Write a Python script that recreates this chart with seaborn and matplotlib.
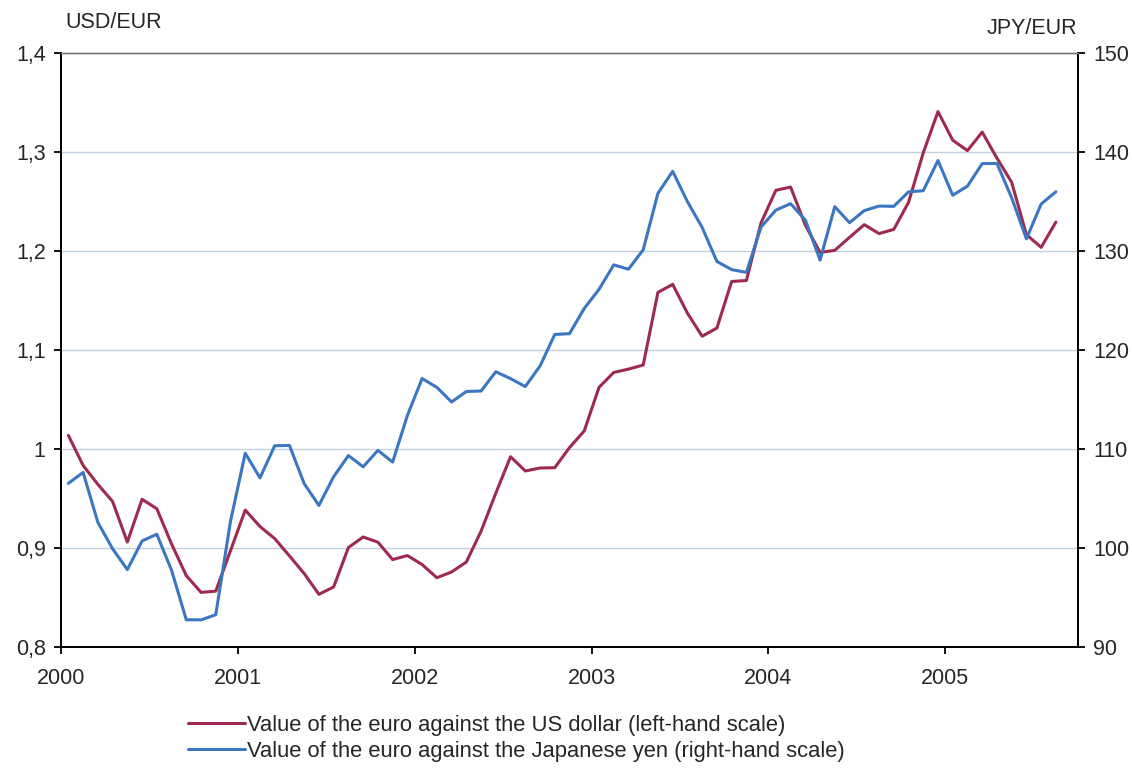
import warnings
warnings.filterwarnings('ignore')

import matplotlib
matplotlib.use('Agg')
import matplotlib.pyplot as plt
import matplotlib.ticker as mticker
import pandas as pd
import seaborn as sns

# monthly averages, Jan 2000 - Aug 2005
usd_eur = [1.0137, 0.9834, 0.9643, 0.9470, 0.9060, 0.9492, 0.9397, 0.9041, 0.8721, 0.8552, 0.8564, 0.8973,
           0.9383, 0.9217, 0.9095, 0.8920, 0.8742, 0.8532, 0.8607, 0.9005, 0.9111, 0.9059, 0.8883, 0.8924,
           0.8833, 0.8700, 0.8758, 0.8858, 0.9170, 0.9554, 0.9922, 0.9778, 0.9808, 0.9811, 1.0014, 1.0183,
           1.0622, 1.0773, 1.0807, 1.0848, 1.1582, 1.1663, 1.1372, 1.1139, 1.1222, 1.1692, 1.1702, 1.2286,
           1.2613, 1.2646, 1.2262, 1.1985, 1.2007, 1.2138, 1.2266, 1.2176, 1.2218, 1.2490, 1.2991, 1.3408,
           1.3119, 1.3014, 1.3201, 1.2938, 1.2694, 1.2165, 1.2037, 1.2292]
jpy_eur = [106.53, 107.64, 102.59, 99.92, 97.82, 100.71, 101.39, 97.76, 92.75, 92.74, 93.26, 102.70,
           109.57, 107.08, 110.33, 110.36, 106.50, 104.30, 107.21, 109.34, 108.20, 109.86, 108.68, 113.38,
           117.12, 116.23, 114.75, 115.81, 115.86, 117.80, 117.11, 116.31, 118.38, 121.57, 121.65, 124.20,
           126.12, 128.60, 128.16, 130.12, 135.83, 138.05, 134.99, 132.38, 128.94, 128.12, 127.84, 132.43,
           134.13, 134.78, 133.13, 129.08, 134.48, 132.86, 134.08, 134.54, 134.51, 135.97, 136.09, 139.14,
           135.63, 136.55, 138.83, 138.84, 135.37, 131.23, 134.75, 135.98]
year_ticks = [2000, 2001, 2002, 2003, 2004, 2005]
left_ticks = [0.8, 0.9, 1.0, 1.1, 1.2, 1.3, 1.4]
right_ticks = [90, 100, 110, 120, 130, 140, 150]
label_usd = 'Value of the euro against the US dollar (left-hand scale)'
label_jpy = 'Value of the euro against the Japanese yen (right-hand scale)'

months = pd.date_range('2000-01-01', periods=len(usd_eur), freq='MS')
df = pd.DataFrame({'t': months.year + (months.month - 0.5) / 12,
                   'usd': usd_eur, 'jpy': jpy_eur})

sns.set_style('white')
plt.rcParams['font.family'] = ['Liberation Sans', 'DejaVu Sans']
FS = 15.5

RED = '#9e2a4f'
BLUE = '#3b76c2'
GRID = '#c3d0e0'

fig = plt.figure(figsize=(11.32, 7.69), dpi=100)
ax = fig.add_axes([61/1132, 1-647/769, (1078-61)/1132, (647-53)/769])
ax2 = ax.twinx()

sns.lineplot(data=df, x='t', y='usd', ax=ax, color=RED, linewidth=2.2, label=label_usd, legend=False)
sns.lineplot(data=df, x='t', y='jpy', ax=ax2, color=BLUE, linewidth=2.2, label=label_jpy, legend=False)

ax.set_xlim(2000, 2000 + 69/12)
ax.set_ylim(0.8, 1.4)
ax2.set_ylim(90, 150)
ax.set_xticks(year_ticks)
ax.set_xticklabels([str(y) for y in year_ticks])
ax.set_yticks(left_ticks)
ax.yaxis.set_major_formatter(mticker.FuncFormatter(lambda v, p: ('%g' % round(v, 1)).replace('.', ',')))
ax2.set_yticks(right_ticks)

ax.grid(axis='y', color=GRID, linewidth=1.0)
ax.grid(axis='x', visible=False)
ax2.grid(False)
ax.set_zorder(ax2.get_zorder() - 1)
ax2.patch.set_visible(False)
ax.set_xlabel('')
ax.set_ylabel('')
ax2.set_ylabel('')

for a in (ax, ax2):
    for s in a.spines.values():
        s.set_color('black')
        s.set_linewidth(1.3)
    a.spines['top'].set_color('#7a7a7a')
    a.spines['top'].set_linewidth(1.0)
    a.tick_params(length=5, width=1.3, color='black', labelsize=FS, pad=6)
ax.tick_params(axis='x', pad=10, direction='out', bottom=True)
ax.tick_params(axis='y', left=True, direction='out')
ax2.tick_params(axis='y', right=True, direction='out')

fig.text(65/1132, 1-22/769, 'USD/EUR', ha='left', va='center', fontsize=FS)
fig.text(1077/1132, 1-28/769, 'JPY/EUR', ha='right', va='center', fontsize=FS)

h1, l1 = ax.get_legend_handles_labels()
h2, l2 = ax2.get_legend_handles_labels()
fig.legend(h1 + h2, l1 + l2, loc='upper left', bbox_to_anchor=(188/1132, 1-715/769),
           frameon=False, fontsize=15.8, handlelength=2.6, handletextpad=0.1,
           labelspacing=0.22, borderpad=0, borderaxespad=0)

fig.savefig('out.png', dpi=100, facecolor='white')
